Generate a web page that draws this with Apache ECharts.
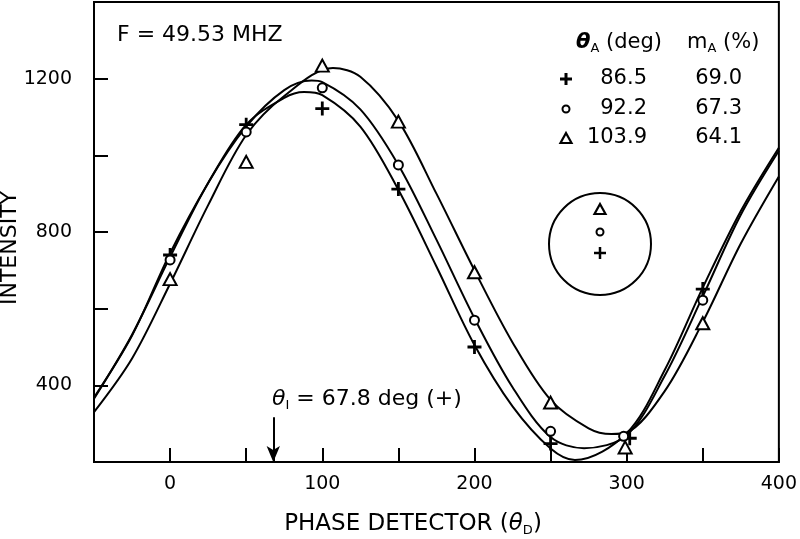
<!DOCTYPE html>
<html>
<head>
<meta charset="utf-8">
<script src="https://cdn.jsdelivr.net/npm/echarts@6/dist/echarts.min.js"></script>
<style>html,body{margin:0;padding:0;background:#fff;}#c{width:800px;height:539px;}</style>
</head>
<body>
<div id="c"></div>
<script>
// ---- data ----
// fitted curves (sample points, incl. its peak and trough)
const plusCurveX   = [-50, -25, 0, 25, 50, 75, 88, 100, 125, 150, 175, 200, 225, 250, 266, 300, 325, 350, 375, 400];
const plusCurveY   = [368, 530, 745, 928, 1080, 1150, 1165, 1157, 1075, 910, 710, 505, 345, 235, 205, 275, 440, 655, 855, 1020];
const circleCurveX = [-50, -25, 0, 25, 50, 75, 93, 100, 125, 150, 175, 200, 225, 250, 272, 300, 325, 350, 375, 400];
const circleCurveY = [365, 532, 735, 928, 1075, 1170, 1195, 1191, 1120, 975, 780, 575, 395, 265, 236, 270, 425, 632, 845, 1012];
const triCurveX    = [-50, -25, 0, 25, 50, 75, 107, 125, 150, 175, 200, 225, 250, 275, 290, 300, 325, 350, 375, 400];
const triCurveY    = [330, 470, 665, 870, 1053, 1155, 1228, 1205, 1090, 900, 700, 512, 362, 288, 273, 277, 385, 565, 770, 945];

// measured points
const plusX   = [0, 50, 100, 150, 200, 250, 302, 350];
const plusY   = [740, 1080, 1122, 912, 500, 248, 262, 651];
const circleX = [0, 50, 100, 150, 200, 250, 298, 350];
const circleY = [727, 1061, 1176, 975, 570, 280, 267, 622];
const triX    = [0, 50, 100, 150, 200, 250, 299, 350];
const triY    = [677, 983, 1234, 1088, 695, 355, 238, 562];

const thetaA = ['86.5', '92.2', '103.9'];
const mA     = ['69.0', '67.3', '64.1'];

const xTickLabels = [0, 100, 200, 300, 400];
const yTickLabels = [400, 800, 1200];
const thetaI = 67.8;
const arrowTop = 317;

const FONT = 'DejaVu Sans';
const zip = (a, b) => a.map((v, i) => [v, b[i]]);

const chart = echarts.init(document.getElementById('c'), null, {renderer: 'canvas'});

const lineSeries = (name, xs, ys) => ({
  name: name, type: 'line', data: zip(xs, ys), smooth: 0.33,
  showSymbol: false, symbol: 'none', silent: true,
  lineStyle: {color: '#000', width: 2}, z: 2
});
const PLUS = 'path://M4,0h2v4h4v2h-4v4h-2v-4h-4v-2h4z';

const sub = {fontSize: 13, fontFamily: FONT, verticalAlign: 'bottom', lineHeight: 13, color: '#000'};

function plusMark(cx, cy, s, t) {
  return [
    {type: 'rect', shape: {x: cx - s / 2, y: cy - t / 2, width: s, height: t}, style: {fill: '#000'}},
    {type: 'rect', shape: {x: cx - t / 2, y: cy - s / 2, width: t, height: s}, style: {fill: '#000'}}
  ];
}
function triMark(cx, cy, w, h) {
  return {type: 'polygon', shape: {points: [[cx, cy - h / 2], [cx + w / 2, cy + h / 2], [cx - w / 2, cy + h / 2]]},
    style: {fill: 'none', stroke: '#000', lineWidth: 2.2}};
}
function circMark(cx, cy, r) {
  return {type: 'circle', shape: {cx: cx, cy: cy, r: r}, style: {fill: '#fff', stroke: '#000', lineWidth: 2}};
}

const rowY = [79, 109, 138];
const graphics = [];
graphics.push({type: 'text', x: 117, y: 35, style: {text: 'F = 49.53 MHZ', font: '22px "' + FONT + '"', fill: '#000', textVerticalAlign: 'middle'}});
graphics.push({type: 'text', x: 662, y: 43, style: {
  text: '{i|θ}{s|A}{n| (deg)}', textAlign: 'right', textVerticalAlign: 'middle',
  rich: {i: {fontSize: 21, fontFamily: FONT, fontStyle: 'italic', fontWeight: 'bold', lineHeight: 24, color: '#000'},
         s: sub, n: {fontSize: 21, fontFamily: FONT, lineHeight: 24, color: '#000'}}}});
graphics.push({type: 'text', x: 687, y: 43, style: {
  text: '{n|m}{s|A}{n| (%)}', textAlign: 'left', textVerticalAlign: 'middle',
  rich: {s: sub, n: {fontSize: 21, fontFamily: FONT, lineHeight: 24, color: '#000'}}}});
for (let i = 0; i < 3; i++) {
  graphics.push({type: 'text', x: 647, y: rowY[i], style: {text: thetaA[i], font: '21px "' + FONT + '"', fill: '#000', textAlign: 'right', textVerticalAlign: 'middle'}});
  graphics.push({type: 'text', x: 742, y: rowY[i], style: {text: mA[i], font: '21px "' + FONT + '"', fill: '#000', textAlign: 'right', textVerticalAlign: 'middle'}});
}
graphics.push(...plusMark(566, rowY[0], 12, 3));
graphics.push(circMark(566, rowY[1], 3.5));
graphics.push(triMark(566, rowY[2], 11, 10));
graphics.push({type: 'circle', shape: {cx: 600, cy: 244, r: 51}, style: {fill: 'none', stroke: '#000', lineWidth: 2}});
graphics.push(triMark(600, 209, 11, 10));
graphics.push(circMark(600, 232, 3.5));
graphics.push(...plusMark(600, 253, 12, 2.5));
graphics.push({type: 'text', x: 272, y: 399, style: {
  text: '{i|θ}{s|I}{n| = 67.8 deg (+)}', textAlign: 'left', textVerticalAlign: 'middle',
  rich: {i: {fontSize: 22, fontFamily: FONT, fontStyle: 'italic', lineHeight: 26, color: '#000'},
         s: sub, n: {fontSize: 22, fontFamily: FONT, lineHeight: 26, color: '#000'}}}});
graphics.push({type: 'text', x: 413, y: 524, style: {
  text: '{n|PHASE DETECTOR (}{i|θ}{s|D}{n|)}', textAlign: 'center', textVerticalAlign: 'middle',
  rich: {i: {fontSize: 23, fontFamily: FONT, fontStyle: 'italic', lineHeight: 27, color: '#000'},
         s: sub, n: {fontSize: 23, fontFamily: FONT, lineHeight: 27, color: '#000'}}}});
graphics.push({type: 'text', x: 10, y: 248, rotation: Math.PI / 2, style: {
  text: 'INTENSITY', font: '22px "' + FONT + '"', fill: '#000', textAlign: 'center', textVerticalAlign: 'middle'}});

const option = {
  animation: false,
  backgroundColor: '#fff',
  grid: {left: 94, right: 18, top: 2, bottom: 77, show: true, borderColor: '#000', borderWidth: 2, backgroundColor: 'transparent'},
  xAxis: {
    type: 'value', min: -50, max: 400, interval: 50,
    axisLine: {show: true, onZero: false, lineStyle: {color: '#000', width: 2}},
    axisTick: {show: true, inside: true, length: 14, lineStyle: {color: '#000', width: 2}},
    axisLabel: {color: '#000', fontSize: 19, fontFamily: FONT, margin: 13,
      formatter: v => xTickLabels.includes(v) ? String(v) : ''},
    splitLine: {show: false}
  },
  yAxis: {
    type: 'value', min: 200, max: 1400, interval: 200,
    axisLine: {show: true, onZero: false, lineStyle: {color: '#000', width: 2}},
    axisTick: {show: true, inside: true, length: 14, lineStyle: {color: '#000', width: 2}},
    axisLabel: {color: '#000', fontSize: 19, fontFamily: FONT, margin: 22,
      formatter: v => yTickLabels.includes(v) ? String(v) : ''},
    splitLine: {show: false}
  },
  legend: {show: false},
  graphic: graphics,
  series: [
    lineSeries('curve +', plusCurveX, plusCurveY),
    lineSeries('curve o', circleCurveX, circleCurveY),
    lineSeries('curve Δ', triCurveX, triCurveY),
    {name: 'θA 86.5', type: 'scatter', data: zip(plusX, plusY), symbol: PLUS, symbolSize: 14,
     itemStyle: {color: '#000', opacity: 1}, z: 4,
     markLine: {silent: true, symbol: ['none', 'arrow'], symbolSize: [10, 16],
       lineStyle: {color: '#000', width: 2, type: 'solid'}, label: {show: false},
       data: [[{coord: [thetaI, arrowTop]}, {coord: [thetaI, 200]}]]}},
    {name: 'θA 92.2', type: 'scatter', data: zip(circleX, circleY), symbol: 'circle', symbolSize: 9,
     itemStyle: {color: '#fff', borderColor: '#000', borderWidth: 2, opacity: 1}, z: 4},
    {name: 'θA 103.9', type: 'scatter', data: zip(triX, triY), symbol: 'triangle', symbolSize: [13, 12],
     itemStyle: {color: '#fff', borderColor: '#000', borderWidth: 2, opacity: 1}, z: 4}
  ]
};
chart.setOption(option);
</script>
</body>
</html>
